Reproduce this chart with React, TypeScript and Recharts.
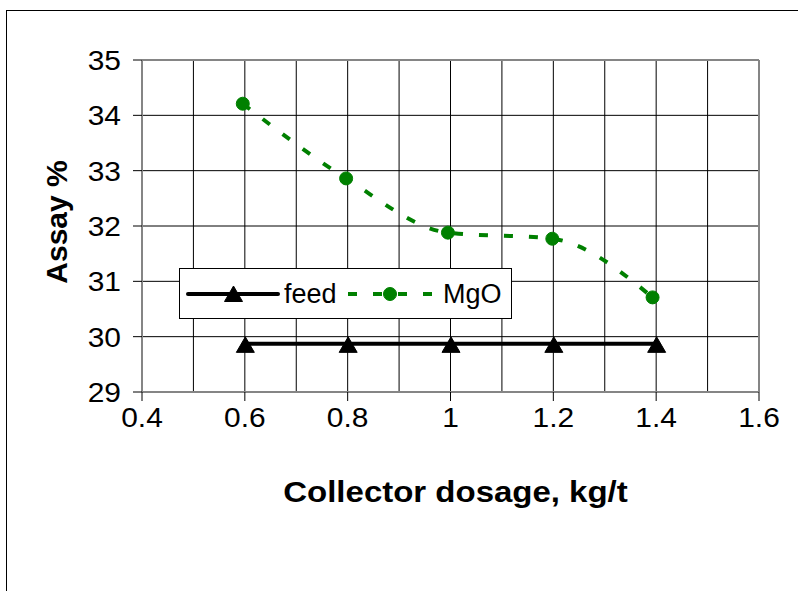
import React from "react";
import {
  LineChart,
  Line,
  XAxis,
  YAxis,
  CartesianGrid,
  ReferenceLine,
  Label,
} from "recharts";

const dosageTicks = [0.4, 0.5, 0.6, 0.7, 0.8, 0.9, 1.0, 1.1, 1.2, 1.3, 1.4, 1.5, 1.6];
const dosageLabels = [0.4, 0.6, 0.8, 1.0, 1.2, 1.4, 1.6];
const assayTicks = [29, 30, 31, 32, 33, 34, 35];

const feedDosage = [0.6, 0.8, 1.0, 1.2, 1.4];
const feedAssay = [29.87, 29.87, 29.87, 29.87, 29.87];

const mgoDosage = [0.596, 0.797, 0.995, 1.198, 1.393];
const mgoAssay = [34.21, 32.86, 31.88, 31.77, 30.71];

const feedData = feedDosage.map((d, i) => ({ dosage: d, feed: feedAssay[i] }));
const mgoData = mgoDosage.map((d, i) => ({ dosage: d, mgo: mgoAssay[i] }));

const FONT = "'Liberation Sans', Arial, Helvetica, sans-serif";
const GREEN = "#008000";
const BORDER = "#858585";

function XTick({ x, y, payload }: any) {
  const v = payload.value as number;
  const major = dosageLabels.some((m) => Math.abs(m - v) < 1e-6);
  if (!major) return null;
  return (
    <g>
      <line x1={x} x2={x} y1={y} y2={y + 9} stroke="#000" strokeWidth={1} />
      <text
        transform={`translate(${x},${y + 35}) scale(1.07,1)`}
        textAnchor="middle"
        fontSize={28}
        fontFamily={FONT}
        fill="#000"
      >
        {String(Number(v.toFixed(1)))}
      </text>
    </g>
  );
}

function YTick({ x, y, payload }: any) {
  return (
    <g>
      <line x1={x - 9} x2={x} y1={y} y2={y} stroke="#000" strokeWidth={1} />
      <text
        transform={`translate(${x - 21},${y + 10}) scale(1.07,1)`}
        textAnchor="end"
        fontSize={28}
        fontFamily={FONT}
        fill="#000"
      >
        {payload.value}
      </text>
    </g>
  );
}

function Triangle({ cx, cy }: any) {
  if (cx == null || cy == null) return null;
  return (
    <polygon
      points={`${cx + 0.5},${cy - 7} ${cx + 9.5},${cy + 8.5} ${cx - 8.5},${cy + 8.5}`}
      fill="#000"
      stroke="#000"
      strokeWidth={1}
    />
  );
}

function Dot({ cx, cy }: any) {
  if (cx == null || cy == null) return null;
  return <circle cx={cx} cy={cy} r={6.5} fill={GREEN} stroke={GREEN} />;
}

function XTitle({ viewBox }: any) {
  const cx = viewBox.x + viewBox.width / 2 + 5;
  return (
    <text
      transform={`translate(${cx},${viewBox.y + 110}) scale(1.1,1)`}
      textAnchor="middle"
      fontSize={30}
      fontWeight="bold"
      fontFamily={FONT}
      fill="#000"
    >
      Collector dosage, kg/t
    </text>
  );
}

function YTitle({ viewBox }: any) {
  const cx = 67;
  const cy = viewBox.y + viewBox.height / 2 - 4;
  return (
    <text
      x={cx}
      y={cy}
      transform={`rotate(-90 ${cx} ${cy})`}
      textAnchor="middle"
      fontSize={30}
      fontWeight="bold"
      fontFamily={FONT}
      fill="#000"
    >
      Assay %
    </text>
  );
}

function LegendBox() {
  return (
    <div
      style={{
        position: "absolute",
        left: 179,
        top: 268,
        width: 333,
        height: 51,
        boxSizing: "border-box",
        border: "1px solid #000",
        background: "#fff",
        fontFamily: FONT,
        fontSize: 27,
      }}
    >
      <svg width={333} height={51} style={{ position: "absolute", left: -1, top: -1 }}>
        <line x1={9} x2={99} y1={26} y2={26} stroke="#000" strokeWidth={4} strokeLinecap="round" />
        <Triangle cx={54} cy={25} />
        <text x={105} y={35} fontSize={27} fontFamily={FONT} fill="#000">
          feed
        </text>
        <line x1={169} x2={256} y1={26} y2={26} stroke={GREEN} strokeWidth={4} strokeDasharray="9 16" />
        <Dot cx={211} cy={26} />
        <text x={264} y={35} fontSize={27} fontFamily={FONT} fill="#000">
          MgO
        </text>
      </svg>
    </div>
  );
}

export default function App() {
  return (
    <div
      style={{
        position: "absolute",
        left: 0,
        top: 0,
        width: 798,
        height: 591,
        overflow: "hidden",
        background: "#fff",
      }}
    >
      <div
        style={{
          position: "absolute",
          left: 6,
          top: 10,
          width: 900,
          height: 700,
          border: "1px solid #000",
        }}
      />
      <LineChart
        width={798}
        height={591}
        margin={{ top: 60, right: 39, left: 0, bottom: 0 }}
        style={{ position: "absolute", left: 0, top: 0 }}
      >
        <CartesianGrid stroke="#000" strokeWidth={1} />
        <XAxis
          type="number"
          dataKey="dosage"
          domain={[0.4, 1.6]}
          ticks={dosageTicks}
          interval={0}
          height={199}
          tickSize={0}
          tickMargin={0}
          tickLine={false}
          tick={<XTick />}
          axisLine={{ stroke: BORDER, strokeWidth: 2 }}
          allowDuplicatedCategory={false}
        >
          <Label content={<XTitle />} />
        </XAxis>
        <YAxis
          type="number"
          domain={[29, 35]}
          ticks={assayTicks}
          interval={0}
          width={142}
          tickSize={0}
          tickMargin={0}
          tickLine={false}
          tick={<YTick />}
          axisLine={{ stroke: BORDER, strokeWidth: 2 }}
        >
          <Label content={<YTitle />} />
        </YAxis>
        <ReferenceLine y={35} stroke={BORDER} strokeWidth={2} />
        <ReferenceLine x={1.6} stroke={BORDER} strokeWidth={2} />
        <Line
          data={feedData}
          dataKey="feed"
          name="feed"
          type="linear"
          stroke="#000"
          strokeWidth={4}
          dot={<Triangle />}
          isAnimationActive={false}
        />
        <Line
          data={mgoData}
          dataKey="mgo"
          name="MgO"
          type="monotone"
          stroke={GREEN}
          strokeWidth={4}
          strokeDasharray="9 16"
          dot={<Dot />}
          isAnimationActive={false}
        />
      </LineChart>
      <LegendBox />
    </div>
  );
}
